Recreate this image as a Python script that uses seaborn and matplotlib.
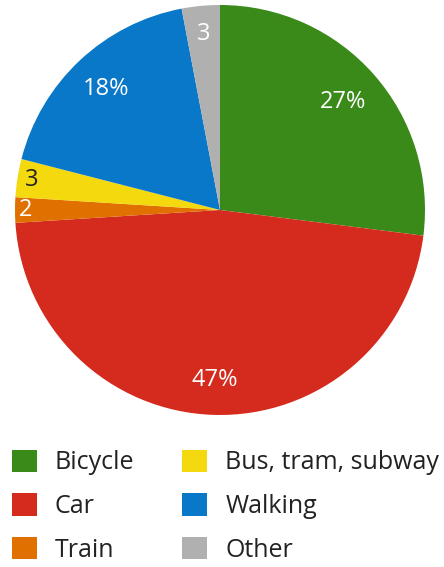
import matplotlib
matplotlib.use("Agg")
import matplotlib.pyplot as plt
import seaborn as sns
import numpy as np
from matplotlib.patches import Patch

categories = ["Bicycle", "Car", "Train", "Bus, tram, subway", "Walking", "Other"]
values = [27, 47, 2, 3, 18, 3]
labels = ["27%", "47%", "2", "3", "18%", "3"]
colors = ["#3a8a1a", "#d52b1e", "#e07000", "#f5d90f", "#0a78c8", "#b0b0b0"]
label_colors = ["white", "white", "white", "#222222", "white", "white"]
label_radius = [0.80, 0.83, 0.95, 0.93, 0.81, 0.86]

sns.set_theme(style="white")
plt.rcParams["font.family"] = ["Open Sans", "DejaVu Sans"]

fig = plt.figure(figsize=(4.44, 5.67), dpi=100)
ax = fig.add_axes([0.0338, 0.2681, 0.9234, 0.7231])
wedges, texts = ax.pie(values, colors=colors, startangle=90, counterclock=False,
                       wedgeprops=dict(linewidth=0), radius=1.0)
for w, lab, col, r in zip(wedges, labels, label_colors, label_radius):
    ang = np.deg2rad((w.theta1 + w.theta2) / 2)
    ax.text(r * np.cos(ang), r * np.sin(ang), lab, ha="center", va="center",
            fontsize=17, color=col)
ax.set_xlim(-1, 1)
ax.set_ylim(-1, 1)
ax.set_aspect("auto")
ax.axis("off")

handles = [Patch(facecolor=c, edgecolor="none") for c in colors]
fig.legend(handles, categories, ncol=2, loc="upper left",
           bbox_to_anchor=(0.027, 0.2072), frameon=False, fontsize=18,
           handlelength=1.0, handleheight=1.0, handletextpad=0.72,
           labelspacing=0.72, columnspacing=1.92, borderaxespad=0, borderpad=0,
           labelcolor="#222222")

fig.savefig("out.png", dpi=100, facecolor="white")
